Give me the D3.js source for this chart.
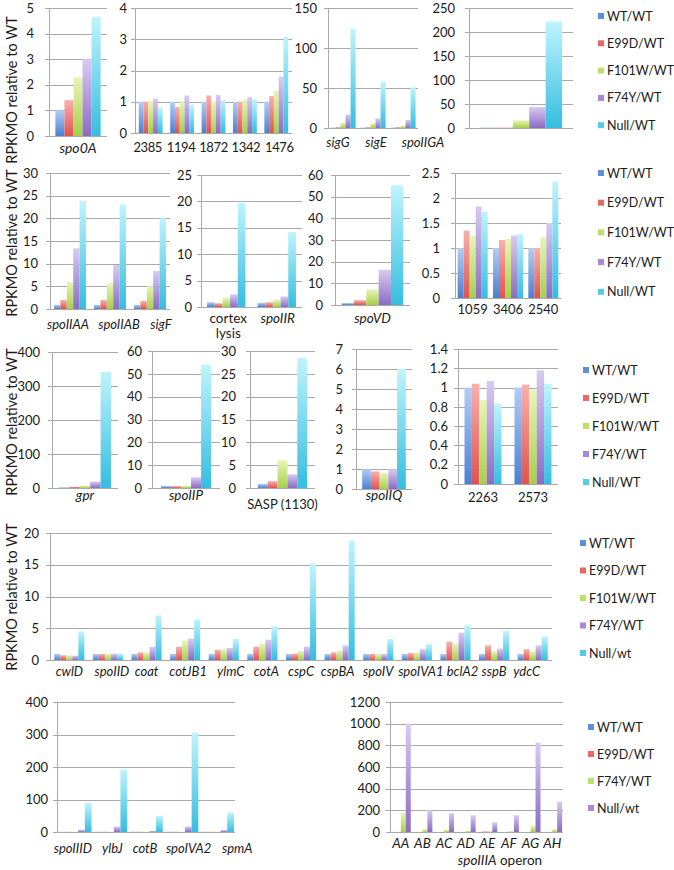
<!DOCTYPE html>
<html><head><meta charset="utf-8">
<script src="https://cdn.jsdelivr.net/npm/d3@7"></script>
<style>
body{margin:0;background:#fff}
svg{display:block}
text{font-family:Lato,"Open Sans",sans-serif;fill:#1a1a1a}
</style>
</head><body>
<svg id="c" width="674" height="870"></svg>
<script>
// ---------- DATA ----------
const series5 = ["WT/WT","E99D/WT","F101W/WT","F74Y/WT","Null/WT"];
const series5b = ["WT/WT","E99D/WT","F101W/WT","F74Y/WT","Null/wt"];
const series4 = ["WT/WT","E99D/WT","F74Y/WT","Null/wt"];

const catsA = ["spo0A"];
const valsA = [[1.0,1.4,2.3,3.0,4.65]];
const catsB = ["2385","1194","1872","1342","1476"];
const valsB = [[1.0,1.0,1.03,1.1,0.8],[1.0,0.83,1.03,1.2,0.9],[1.0,1.2,1.0,1.22,1.05],[1.0,1.0,1.07,1.15,1.08],[1.0,1.18,1.36,1.8,3.08]];
const catsC = ["sigG","sigE","spoIIGA"];
const valsC = [[0.6,1,6.5,17,124],[0.6,1,6,12,58],[0.6,1,3,10,51]];
const catsD = [""];
const valsD = [[1,1,16,44,222]];

const catsE = ["spoIIAA","spoIIAB","sigF"];
const valsE = [[0.9,2.0,6.0,13.4,23.9],[0.9,2.0,5.7,9.7,23.0],[0.9,1.8,5.0,8.4,20.0]];
const catsF = ["cortex lysis","spoIIR"];
const valsF = [[0.9,0.7,1.7,2.4,19.7],[0.8,0.9,1.4,2.0,14.2]];
const catsG = ["spoVD"];
const valsG = [[0.9,2.2,7.2,16.3,55.3]];
const catsH = ["1059","3406","2540"];
const valsH = [[1.0,1.35,1.24,1.83,1.73],[1.0,1.16,1.18,1.25,1.28],[1.0,1.0,1.22,1.5,2.33]];

const catsI = ["gpr"];
const valsI = [[2,3.5,7,19,342]];
const catsJ = ["spoIIP"];
const valsJ = [[0.9,0.8,1.0,4.7,54]];
const catsK = ["SASP (1130)"];
const valsK = [[0.9,1.5,6.1,3.0,28.5]];
const catsL = ["spoIIQ"];
const valsL = [[0.98,0.88,0.8,0.98,6.0]];
const catsM = ["2263","2573"];
const valsM = [[1.0,1.04,0.87,1.07,0.83],[1.0,1.03,0.98,1.18,1.04]];

const catsN = ["cwlD","spoIID","coat","cotJB1","ylmC","cotA","cspC","cspBA","spoIV","spoIVA1","bclA2","sspB","ydcC"];
const valsN = [
  [0.95,0.75,0.75,0.7,4.5],
  [0.95,0.95,0.95,1.0,1.0],
  [0.95,1.2,1.2,2.1,7.0],
  [0.95,2.1,3.1,3.4,6.4],
  [0.95,1.6,1.7,1.9,3.3],
  [0.95,2.1,2.6,3.2,5.3],
  [0.95,1.0,1.4,2.1,15.2],
  [0.95,1.2,1.5,2.3,18.8],
  [0.95,0.95,0.95,0.95,3.3],
  [0.95,1.1,1.2,1.7,2.5],
  [0.95,2.9,2.6,4.3,5.5],
  [0.95,2.3,1.4,1.8,4.6],
  [0.95,1.7,1.4,2.3,3.7]
];

const catsO = ["spoIIID","ylbJ","cotB","spoIVA2","spmA"];
const valsO = [[1,1,1,7,90],[1,1,1,17,192],[1,1,1,3,50],[1,1,1,17,305],[1,1,1,6,60]];
const catsP = ["AA","AB","AC","AD","AE","AF","AG","AH"];
const valsP = [[1,1,180,1000],[1,1,25,205],[1,1,20,175],[1,1,10,155],[1,6,8,90],[1,1,8,155],[1,1,55,825],[1,1,25,280]];

const yTitle = "RPKMO relative to WT";

// ---------- STYLE ----------
const grads = {
  blue:["#b3cdf5","#4a80d2"],
  red:["#f9b0ad","#e0524e"],
  green:["#e8f5b8","#a6cf4a"],
  purple:["#d8cbf1","#8b6bc3"],
  cyan:["#bff4fd","#35bddf"]
};
const solid = {blue:"#5a8fdc",red:"#ea6763",green:"#bde06b",purple:"#a688d6",cyan:"#52cde9"};
const col5 = ["blue","red","green","purple","cyan"];
const col4 = ["blue","red","green","purple"];
const gridColor = "#a9a9a9";

const svg = d3.select("#c");
const defs = svg.append("defs");
Object.entries(grads).forEach(([k,[a,b]])=>{
  const lg = defs.append("linearGradient").attr("id","g-"+k).attr("x1",0).attr("y1",0).attr("x2",0).attr("y2",1);
  lg.append("stop").attr("offset","0%").attr("stop-color",a);
  lg.append("stop").attr("offset","100%").attr("stop-color",b);
});

const fmt = d => String(+d.toFixed(2));
const isPlain = c => /^\d+$/.test(c) || /^SASP/.test(c) || /^cortex/.test(c);

function panel(p){
  const g = svg.append("g");
  const y = d3.scaleLinear().domain([0,p.max]).range([p.yBase,p.yTop]);
  const x = d3.scaleBand().domain(p.cats).range([p.x0,p.x1]);
  const bw = x.bandwidth();
  const xs = d3.scaleBand().domain(d3.range(p.colors.length)).range([bw*p.pad, bw*(1-p.pad)]);
  const ticks = d3.range(0, p.max + p.step/2, p.step);
  const ax = d3.axisLeft(y).tickValues(ticks).tickFormat(fmt)
      .tickSize(-(p.x1-p.x0)).tickSizeOuter(0).tickPadding(p.gap||11);
  const ag = g.append("g").attr("transform",`translate(${p.x0},0)`).call(ax);
  ag.select(".domain").remove();
  ag.selectAll(".tick line").attr("x1",-4).attr("stroke",gridColor).attr("shape-rendering","crispEdges");
  ag.selectAll(".tick text").attr("font-size",13).attr("fill","#1a1a1a")
     .attr("font-family","Lato, 'Open Sans', sans-serif");
  g.append("line").attr("x1",p.x0).attr("x2",p.x0).attr("y1",y(0)).attr("y2",y(p.max))
    .attr("stroke",gridColor).attr("shape-rendering","crispEdges");
  p.cats.forEach((c,i)=>{
    p.vals[i].forEach((v,j)=>{
      g.append("rect").attr("x",x(c)+xs(j)).attr("width",xs.bandwidth())
        .attr("y",y(v)).attr("height",y(0)-y(v)).attr("fill",`url(#g-${p.colors[j]})`);
    });
    if(c!==""){
      const cx = x(c)+bw/2 + (p.lxs ? p.lxs[i] : 0);
      const lines = p.split && p.split[c] ? p.split[c] : [c];
      lines.forEach((ln,k)=>{
        g.append("text").attr("x",cx).attr("y",p.labelY + k*14.5)
         .attr("text-anchor","middle").attr("font-size",p.lfs||13.5)
         .attr("letter-spacing",p.ls||0)
         .attr("font-style",isPlain(c)?"normal":"italic").text(ln);
      });
    }
  });
  return {x,y};
}

function legend(names, colors, sx, y0, dy){
  names.forEach((n,i)=>{
    const yy = y0 + i*dy;
    svg.append("rect").attr("x",sx).attr("y",yy-3).attr("width",6).attr("height",6).attr("fill",solid[colors[i]]);
    svg.append("text").attr("x",sx+9).attr("y",yy+4.5).attr("font-size",12.5).text(n);
  });
}

function title(cy){
  svg.append("text").attr("transform",`translate(17,${cy}) rotate(-90)`)
    .attr("text-anchor","middle").attr("font-size",14.5).text(yTitle);
}

// Row 1
panel({x0:49,x1:107,yTop:8,yBase:136,max:5,step:1,cats:catsA,vals:valsA,colors:col5,pad:0.11,labelY:153,gap:15,lfs:14});
panel({x0:135,x1:292,yTop:8,yBase:133,max:4,step:1,cats:catsB,vals:valsB,colors:col5,pad:0.12,labelY:152,gap:8,lfs:13,ls:-0.4,lxs:[-3,-1,0,1,3]});
panel({x0:328,x1:418,yTop:8,yBase:128,max:150,step:50,cats:catsC,vals:valsC,colors:col5,pad:0.08,labelY:147,gap:11,lfs:13,lxs:[-5,3,20]});
panel({x0:469,x1:573,yTop:8,yBase:128,max:250,step:50,cats:catsD,vals:valsD,colors:col5,pad:0.105,labelY:147,gap:14});
legend(series5,col5,598,16,27.3);
title(90);

// Row 2
panel({x0:50,x1:170,yTop:173,yBase:309,max:30,step:5,cats:catsE,vals:valsE,colors:col5,pad:0.1,labelY:329,gap:12,lfs:13,lxs:[-2,9,11]});
panel({x0:201,x1:302,yTop:175,yBase:307,max:25,step:5,cats:catsF,vals:valsF,colors:col5,pad:0.12,labelY:323,gap:9,lfs:13.5,
       split:{"cortex lysis":["cortex","lysis"]},lxs:[2,1]});
panel({x0:335,x1:410,yTop:175,yBase:305,max:60,step:10,cats:catsG,vals:valsG,colors:col5,pad:0.09,labelY:323,gap:12});
panel({x0:455,x1:561,yTop:173,yBase:298,max:2.5,step:0.5,cats:catsH,vals:valsH,colors:col5,pad:0.075,labelY:314,gap:15,lfs:13});
legend(series5,col5,598,173,29.7);
title(243);

// Row 3
panel({x0:52,x1:118,yTop:352,yBase:488,max:400,step:100,cats:catsI,vals:valsI,colors:col5,pad:0.106,labelY:500,gap:12});
panel({x0:152,x1:220,yTop:351,yBase:488,max:60,step:10,cats:catsJ,vals:valsJ,colors:col5,pad:0.13,labelY:500,gap:10});
panel({x0:250,x1:315,yTop:351,yBase:488,max:30,step:5,cats:catsK,vals:valsK,colors:col5,pad:0.12,labelY:509,gap:14,lfs:13});
panel({x0:356,x1:412,yTop:349,yBase:489,max:7,step:1,cats:catsL,vals:valsL,colors:col5,pad:0.11,labelY:500,gap:13});
panel({x0:458,x1:558,yTop:349,yBase:484,max:1.4,step:0.2,cats:catsM,vals:valsM,colors:col5,pad:0.13,labelY:502,gap:10,lfs:13});
legend(series5,col5,583,370,28);
title(422);

// Row 4
panel({x0:50,x1:552,yTop:533,yBase:660,max:20,step:5,cats:catsN,vals:valsN,colors:col5,pad:0.11,labelY:676,gap:11,lfs:13,
       lxs:[0,4,0,3,7,4,0,-2,0,4,7,0,-6]});
legend(series5b,col5,580,543,27.5);
title(597);

// Row 5
panel({x0:57,x1:235,yTop:702,yBase:832,max:400,step:100,cats:catsO,vals:valsO,colors:col5,pad:0.03,labelY:853,gap:9,lfs:13,
       lxs:[-2,2,-1,7,20]});
panel({x0:390,x1:563,yTop:702,yBase:832,max:1200,step:200,cats:catsP,vals:valsP,colors:col4,pad:0.04,labelY:848,gap:10,lfs:13.5});
const op = svg.append("text").attr("x",500).attr("y",865).attr("text-anchor","middle").attr("font-size",13.5);
op.append("tspan").attr("font-style","italic").text("spoIIIA");
op.append("tspan").text(" operon");
legend(series4,col4,588,727,27);
</script>
</body></html>
